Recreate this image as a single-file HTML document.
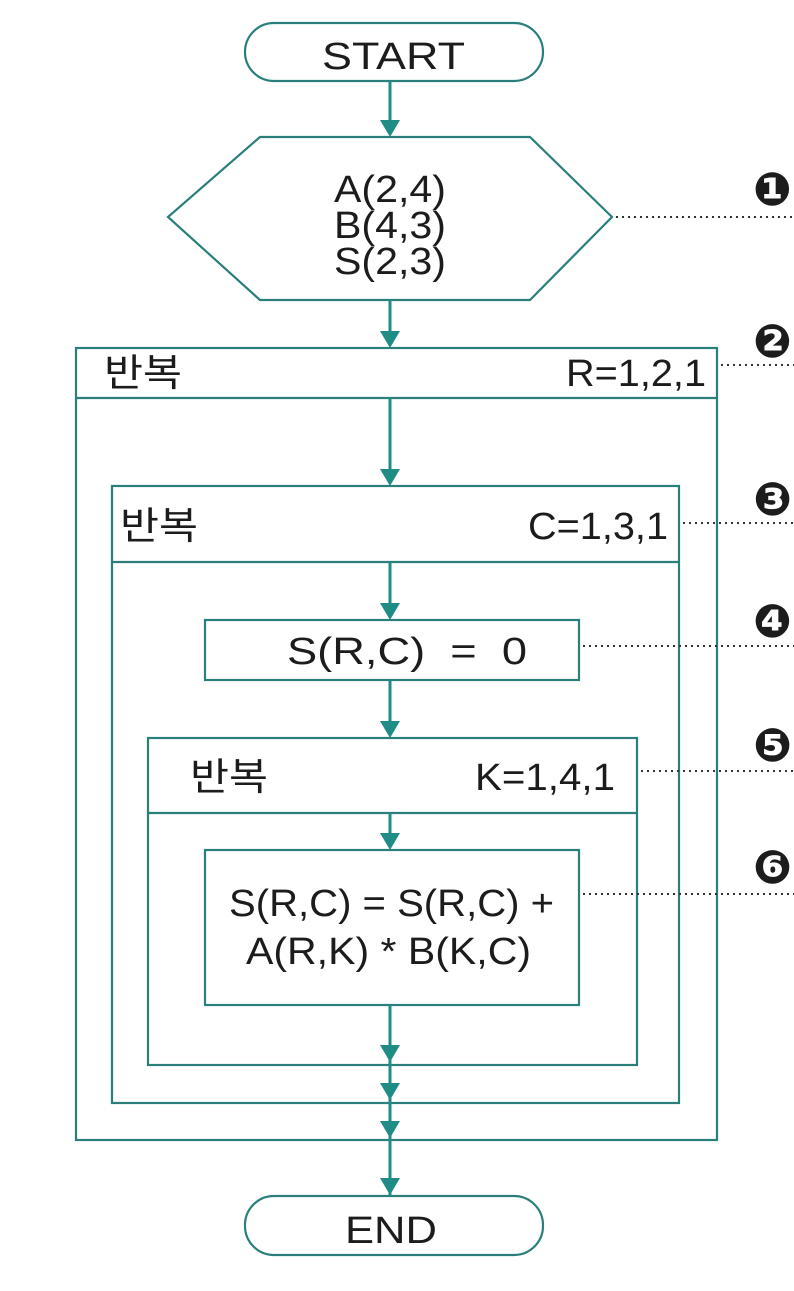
<!DOCTYPE html>
<html><head><meta charset="utf-8"><style>
html,body{margin:0;padding:0;background:#fff;width:794px;height:1291px;overflow:hidden}
text{font-family:"Liberation Sans","Noto Sans CJK KR",sans-serif;fill:#1c1c1c}
</style></head><body>
<svg width="794" height="1291" viewBox="0 0 794 1291" xmlns="http://www.w3.org/2000/svg">
<g fill="none" stroke="#2a7f7a" stroke-width="2.2">
<rect x="245" y="23" width="298" height="58" rx="29"/>
<polygon points="260,137 530,137 612,217 530,300 260,300 168,217"/>
<rect x="76" y="348" width="641" height="792"/>
<line x1="76" y1="398" x2="717" y2="398"/>
<rect x="112" y="486" width="567" height="617"/>
<line x1="112" y1="562" x2="679" y2="562"/>
<rect x="205" y="620" width="374" height="60"/>
<rect x="148" y="738" width="489" height="327"/>
<line x1="148" y1="813" x2="637" y2="813"/>
<rect x="205" y="850" width="374" height="155"/>
<rect x="245" y="1196" width="298" height="59" rx="29"/>
</g>
<g stroke="#1f8c86" stroke-width="3" fill="none">
<line x1="390" y1="81" x2="390" y2="124" />
<line x1="390" y1="300" x2="390" y2="335"/>
<line x1="390" y1="398" x2="390" y2="473"/>
<line x1="390" y1="562" x2="390" y2="607"/>
<line x1="390" y1="680" x2="390" y2="725"/>
<line x1="390" y1="813" x2="390" y2="837"/>
<line x1="390" y1="1005" x2="390" y2="1196"/>
</g>
<g fill="#1f8c86">
<path d="M380,120 L400,120 L390,137 z"/>
<path d="M380,331 L400,331 L390,348 z"/>
<path d="M380,469 L400,469 L390,486 z"/>
<path d="M380,603 L400,603 L390,620 z"/>
<path d="M380,721 L400,721 L390,738 z"/>
<path d="M380,833 L400,833 L390,850 z"/>
<path d="M380,1045 L400,1045 L390,1062 z"/>
<path d="M380,1083 L400,1083 L390,1100 z"/>
<path d="M380,1121 L400,1121 L390,1138 z"/>
<path d="M380,1178 L400,1178 L390,1195 z"/>
</g>
<g stroke="#333" stroke-width="2" stroke-dasharray="2,4" fill="none">
<line x1="616" y1="217" x2="794" y2="217"/>
<line x1="721" y1="365" x2="794" y2="365"/>
<line x1="683" y1="523" x2="794" y2="523"/>
<line x1="583" y1="646" x2="794" y2="646"/>
<line x1="641" y1="771" x2="794" y2="771"/>
<line x1="583" y1="894" x2="794" y2="894"/>
</g>
<g font-size="38" lengthAdjust="spacingAndGlyphs">
<text x="322" y="69" textLength="143" lengthAdjust="spacingAndGlyphs">START</text>
<text x="334" y="202" textLength="112" lengthAdjust="spacingAndGlyphs">A(2,4)</text>
<text x="334" y="238" textLength="112" lengthAdjust="spacingAndGlyphs">B(4,3)</text>
<text x="334" y="274" textLength="112" lengthAdjust="spacingAndGlyphs">S(2,3)</text>
<text x="104" y="386" textLength="78" lengthAdjust="spacingAndGlyphs">반복</text>
<text x="566" y="386" textLength="140" lengthAdjust="spacingAndGlyphs">R=1,2,1</text>
<text x="120" y="539" textLength="78" lengthAdjust="spacingAndGlyphs">반복</text>
<text x="528" y="539" textLength="140" lengthAdjust="spacingAndGlyphs">C=1,3,1</text>
<text x="287" y="664" textLength="240" lengthAdjust="spacingAndGlyphs" xml:space="preserve">S(R,C)  =  0</text>
<text x="190" y="790" textLength="78" lengthAdjust="spacingAndGlyphs">반복</text>
<text x="475" y="790" textLength="140" lengthAdjust="spacingAndGlyphs">K=1,4,1</text>
<text x="229" y="916" textLength="325" lengthAdjust="spacingAndGlyphs">S(R,C) = S(R,C) +</text>
<text x="246" y="964" textLength="285" lengthAdjust="spacingAndGlyphs">A(R,K) * B(K,C)</text>
<text x="345" y="1243" textLength="92" lengthAdjust="spacingAndGlyphs">END</text>
</g>
<g font-size="46" font-weight="bold">
<text x="753" y="205" style="font-family:'DejaVu Sans',sans-serif">❶</text>
<text x="753" y="357" style="font-family:'DejaVu Sans',sans-serif">❷</text>
<text x="753" y="515" style="font-family:'DejaVu Sans',sans-serif">❸</text>
<text x="753" y="637" style="font-family:'DejaVu Sans',sans-serif">❹</text>
<text x="753" y="761" style="font-family:'DejaVu Sans',sans-serif">❺</text>
<text x="753" y="883" style="font-family:'DejaVu Sans',sans-serif">❻</text>
</g>
</svg>
</body></html>
